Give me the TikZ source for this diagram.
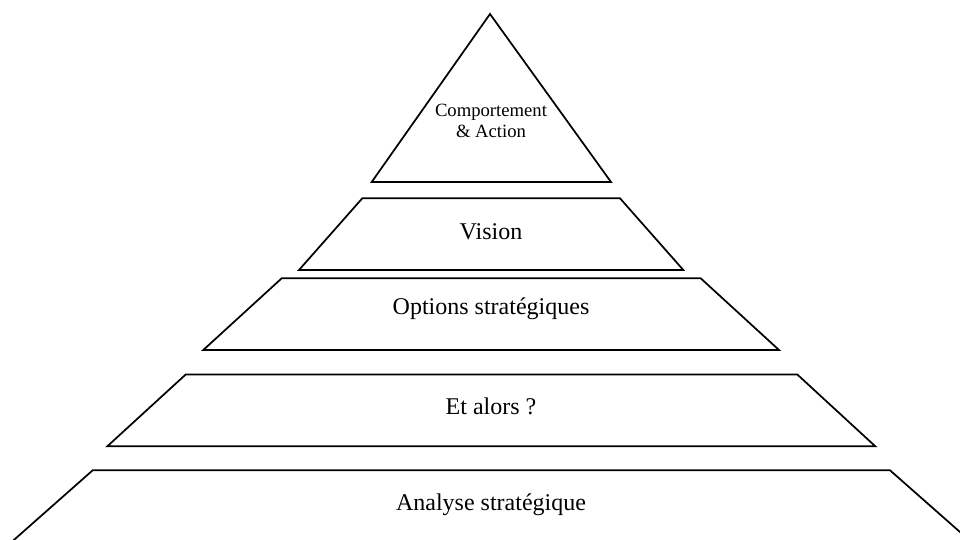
\documentclass[tikz,border=0pt]{standalone}
\usepackage{fontspec}
\setmainfont{Liberation Serif}

\begin{document}
\begin{tikzpicture}[x=0.75pt,y=0.75pt,line width=1.3pt,line join=miter]
\tikzset{layer/.style={font=\fontsize{18}{21}\selectfont,anchor=base},
         top/.style={font=\fontsize{14}{15.75}\selectfont,align=center,anchor=base}}
\useasboundingbox (0,0) rectangle (960,539);
\clip (0,0) rectangle (960,539);
% top triangle
\draw (490,525) -- (611,357) -- (371.7,357) -- cycle;
\node[top] (action) at (491,401.3) {Comportement\\\& Action};
% layers, from top to bottom
\draw (362.3,340.7) -- (620,340.7) -- (683.3,269) -- (299,269) -- cycle;
\node[layer] (vision) at (491,299) {Vision};
\draw (281.7,260.7) -- (700.7,260.7) -- (779,189) -- (203.3,189) -- cycle;
\node[layer] (options) at (491,224) {Options stratégiques};
\draw (185.7,164.5) -- (797.3,164.5) -- (875.3,92.7) -- (107.3,92.7) -- cycle;
\node[layer] (alors) at (491,124.7) {Et alors ?};
\draw (92.7,68.7) -- (890,68.7) -- (974.7,-6) -- (8.2,-6) -- cycle;
\node[layer] (analyse) at (491,29) {Analyse stratégique};
\end{tikzpicture}
\end{document}
